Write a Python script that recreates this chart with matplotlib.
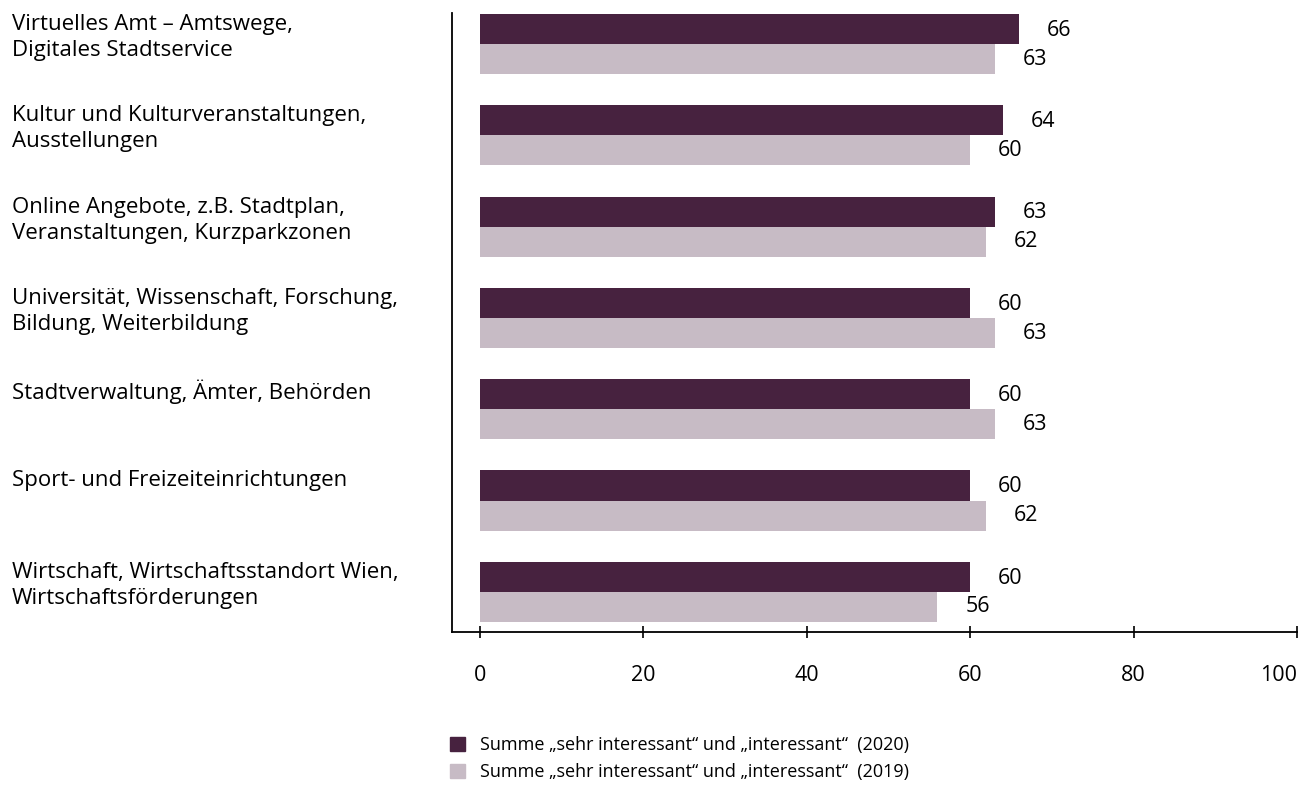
import numpy as np
import matplotlib
matplotlib.use("Agg")
import matplotlib.pyplot as plt
import matplotlib.transforms as mtransforms
from matplotlib.patches import Patch

plt.rcParams['font.family'] = ['Open Sans', 'DejaVu Sans']

categories = [
    "Virtuelles Amt – Amtswege,\nDigitales Stadtservice",
    "Kultur und Kulturveranstaltungen,\nAusstellungen",
    "Online Angebote, z.B. Stadtplan,\nVeranstaltungen, Kurzparkzonen",
    "Universität, Wissenschaft, Forschung,\nBildung, Weiterbildung",
    "Stadtverwaltung, Ämter, Behörden",
    "Sport- und Freizeiteinrichtungen",
    "Wirtschaft, Wirtschaftsstandort Wien,\nWirtschaftsförderungen",
]
values_2020 = [66, 64, 63, 60, 60, 60, 60]
values_2019 = [63, 60, 62, 63, 63, 62, 56]
series_labels = [
    "Summe „sehr interessant“ und „interessant“  (2020)",
    "Summe „sehr interessant“ und „interessant“  (2019)",
]
xticks = [0, 20, 40, 60, 80, 100]

dark = '#47223F'
light = '#C7BBC5'

fig = plt.figure(figsize=(13.01, 7.85), dpi=100)
ax = fig.add_axes([0.3474, 0.1949, 0.9969 - 0.3474, 0.9834 - 0.1949])

y = np.arange(len(categories))
h = 0.33
ax.barh(y - h / 2, values_2020, height=h, color=dark)
ax.barh(y + h / 2, values_2019, height=h, color=light)

for yi, v in zip(y - h / 2, values_2020):
    ax.annotate(str(v), (v, yi), xytext=(20, -1), textcoords='offset points',
                va='center', ha='left', fontsize=15.5)
for yi, v in zip(y + h / 2, values_2019):
    ax.annotate(str(v), (v, yi), xytext=(20, 0), textcoords='offset points',
                va='center', ha='left', fontsize=15.5)

# category labels, left aligned at the figure edge
trans = mtransforms.blended_transform_factory(fig.transFigure, ax.transData)
for yi, lab in zip(y, categories):
    ax.text(12 / 1301, yi - 0.33, lab, transform=trans, ha='left', va='top',
            fontsize=16, linespacing=1.32, clip_on=False)

ax.set_xlim(-3.4, 100)
ax.set_ylim(6.44, -0.34)
ax.set_xticks(xticks)
ax.set_yticks([])
ax.tick_params(axis='x', direction='inout', length=9, width=1.2, pad=19, labelsize=15.5)
ax.get_xticklabels()[-1].set_ha('right')
for s in ['top', 'right']:
    ax.spines[s].set_visible(False)
ax.spines['left'].set_linewidth(1.3)
ax.spines['bottom'].set_linewidth(1.3)

handles = [Patch(color=dark), Patch(color=light)]
fig.legend(handles, series_labels, loc='upper left',
           bbox_to_anchor=(450 / 1301, 1 - 736 / 785), frameon=False,
           borderaxespad=0, borderpad=0,
           fontsize=13, handlelength=0.83, handleheight=0.83,
           handletextpad=0.83, labelspacing=0.5)

fig.savefig('out.png', dpi=100)
